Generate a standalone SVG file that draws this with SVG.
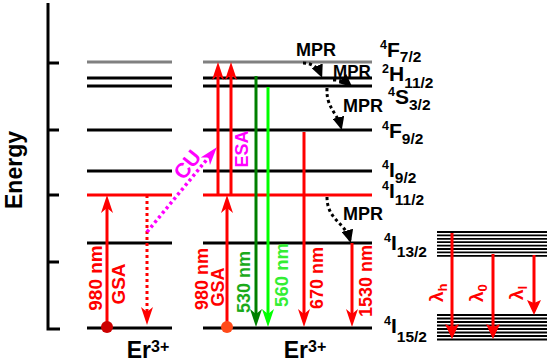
<svg xmlns="http://www.w3.org/2000/svg" width="550" height="362" viewBox="0 0 550 362">
<style>
text{font-family:"Liberation Sans",Arial,sans-serif;font-weight:bold}
.lv{stroke:#000;stroke-width:3;fill:none}
.gr{stroke:#808080;stroke-width:3}
.rd{stroke:#ff0000;stroke-width:3}
.bd{stroke:#000;stroke-width:1.8}
.ar{stroke:#ff0000;stroke-width:3;fill:none}
.ard{stroke:#ff0000;stroke-width:3;fill:none;stroke-dasharray:3 3}
.dg{stroke:#008000;stroke-width:3;fill:none}
.lg{stroke:#00ff00;stroke-width:3;fill:none}
.mg{stroke:#ff00ff;stroke-width:3.5;fill:none;stroke-dasharray:3 3}
.mp{stroke:#000;stroke-width:3;fill:none;stroke-dasharray:3 3}
.lab{font-size:21px;fill:#000}
.sup{font-size:12.5px}
.sub{font-size:15.5px}
</style>
<defs>
<marker id="aR" markerUnits="userSpaceOnUse" markerWidth="20" markerHeight="14" refX="12" refY="7" orient="auto"><path d="M0,1 L18,7 L0,13 L5,7 Z" fill="#ff0000"/></marker>
<marker id="aDG" markerUnits="userSpaceOnUse" markerWidth="20" markerHeight="14" refX="12" refY="7" orient="auto"><path d="M0,1 L18,7 L0,13 L5,7 Z" fill="#008000"/></marker>
<marker id="aLG" markerUnits="userSpaceOnUse" markerWidth="20" markerHeight="14" refX="12" refY="7" orient="auto"><path d="M0,1 L18,7 L0,13 L5,7 Z" fill="#00ff00"/></marker>
<marker id="aM" markerUnits="userSpaceOnUse" markerWidth="20" markerHeight="14" refX="12" refY="7" orient="auto"><path d="M0,1 L18,7 L0,13 L5,7 Z" fill="#ff00ff"/></marker>
<marker id="aB" markerUnits="userSpaceOnUse" markerWidth="14" markerHeight="12" refX="10" refY="6" orient="auto"><path d="M0,0 L13,6 L0,12 Z" fill="#000"/></marker>
<marker id="aT" markerUnits="userSpaceOnUse" markerWidth="16" markerHeight="16" refX="8" refY="8" orient="auto"><path d="M0,1 L15,8 L0,15 L3,8 Z" fill="#ff0000"/></marker>
</defs>

<g id="axis">
<path d="M48,3 V329 H60" stroke="#000" stroke-width="3" fill="none"/>
<path d="M48,63 H59 M48,130 H59 M48,195 H59 M48,262 H59" stroke="#000" stroke-width="3"/>
<text transform="translate(22,170) rotate(-90)" text-anchor="middle" font-size="23">Energy</text>
</g>

<g id="er-left">
<line class="gr" x1="87" y1="62" x2="172" y2="62"/>
<line class="lv" x1="87" y1="78" x2="172" y2="78"/>
<line class="lv" x1="87" y1="86" x2="172" y2="86"/>
<line class="lv" x1="87" y1="130" x2="172" y2="130"/>
<line class="lv" x1="87" y1="171" x2="172" y2="171"/>
<line class="rd" x1="87" y1="195" x2="172" y2="195"/>
<line class="lv" x1="87" y1="243" x2="172" y2="243"/>
<line class="lv" x1="87" y1="328" x2="172" y2="328"/>
<text x="148" y="358" text-anchor="middle" font-size="23">Er<tspan font-size="16" dy="-6">3+</tspan></text>
</g>

<g id="er-right">
<line class="gr" x1="203" y1="62" x2="372" y2="62"/>
<line class="lv" x1="203" y1="78" x2="372" y2="78"/>
<line class="lv" x1="203" y1="86" x2="372" y2="86"/>
<line class="lv" x1="203" y1="130" x2="372" y2="130"/>
<line class="lv" x1="203" y1="171" x2="372" y2="171"/>
<line class="rd" x1="203" y1="195" x2="372" y2="195"/>
<line class="lv" x1="203" y1="243" x2="372" y2="243"/>
<line class="lv" x1="203" y1="328" x2="372" y2="328"/>
<text x="305" y="358" text-anchor="middle" font-size="23">Er<tspan font-size="16" dy="-6">3+</tspan></text>
</g>

<g id="level-labels">
<text x="380" y="57" class="lab"><tspan class="sup" dy="-8">4</tspan><tspan dy="8">F</tspan><tspan class="sub" dy="5">7/2</tspan></text>
<text x="382" y="81" class="lab"><tspan class="sup" dy="-8">2</tspan><tspan dy="8">H</tspan><tspan class="sub" dy="7">11/2</tspan></text>
<text x="388" y="104" class="lab"><tspan class="sup" dy="-8">4</tspan><tspan dy="8">S</tspan><tspan class="sub" dy="6">3/2</tspan></text>
<text x="382" y="138" class="lab"><tspan class="sup" dy="-8">4</tspan><tspan dy="8">F</tspan><tspan class="sub" dy="6">9/2</tspan></text>
<text x="382" y="177" class="lab"><tspan class="sup" dy="-8">4</tspan><tspan dy="8">I</tspan><tspan class="sub" dy="6">9/2</tspan></text>
<text x="382" y="198" class="lab"><tspan class="sup" dy="-8">4</tspan><tspan dy="8">I</tspan><tspan class="sub" dy="7">11/2</tspan></text>
<text x="384" y="250" class="lab"><tspan class="sup" dy="-8">4</tspan><tspan dy="8">I</tspan><tspan class="sub" dy="7">13/2</tspan></text>
<text x="384" y="333" class="lab"><tspan class="sup" dy="-8">4</tspan><tspan dy="8">I</tspan><tspan class="sub" dy="9">15/2</tspan></text>
</g>

<g id="bands">
<path class="bd" d="M437,232 H547 M437,235.4 H547 M437,238.8 H547 M437,242.2 H547 M437,245.6 H547 M437,249 H547 M437,252.4 H547 M437,255.8 H547"/>
<path class="bd" d="M437,315 H547 M437,318.5 H547 M437,322 H547 M437,325.5 H547 M437,329 H547 M437,332.5 H547 M437,336 H547 M437,339.5 H547"/>
</g>

<g id="connectors">
<line class="ar" x1="107" y1="327" x2="107" y2="201" marker-end="url(#aR)"/>
<line class="ard" x1="147" y1="195" x2="147" y2="319" marker-end="url(#aR)"/>
<line class="mg" x1="147" y1="232" x2="213" y2="152" marker-end="url(#aM)"/>
<line class="ar" x1="227" y1="327" x2="227" y2="201" marker-end="url(#aR)"/>
<line class="ar" x1="218" y1="195" x2="218" y2="68" marker-end="url(#aR)"/>
<line class="ar" x1="231" y1="195" x2="231" y2="68" marker-end="url(#aR)"/>
<line class="dg" x1="256" y1="76" x2="256" y2="321" marker-end="url(#aDG)"/>
<line class="lg" x1="268" y1="87" x2="268" y2="321" marker-end="url(#aLG)"/>
<line class="ar" x1="304" y1="132" x2="304" y2="321" marker-end="url(#aR)"/>
<line class="ar" x1="352" y1="243" x2="352" y2="321" marker-end="url(#aR)"/>
<path class="mp" d="M303,63 Q316,63 321,75" marker-end="url(#aB)"/>
<path class="mp" d="M333,80 Q344,80 350,85" marker-end="url(#aB)"/>
<path class="mp" d="M327,88 C326,108 337,112 341,127" marker-end="url(#aB)"/>
<path class="mp" d="M327,197 C327,220 345,222 350,240" marker-end="url(#aB)"/>
<line class="ar" x1="452" y1="233" x2="452" y2="332" marker-end="url(#aT)"/>
<line class="ar" x1="493" y1="254" x2="493" y2="332" marker-end="url(#aT)"/>
<line class="ar" x1="534" y1="255" x2="534" y2="308" marker-end="url(#aT)"/>
</g>

<g id="dots">
<circle cx="107" cy="327" r="6" fill="#cc0000"/>
<circle cx="227" cy="327" r="6" fill="#ff4a1a"/>
</g>

<g id="transition-labels">
<text transform="translate(102,278) rotate(-90)" text-anchor="middle" font-size="19" fill="#ff0000">980 nm</text>
<text transform="translate(125,284) rotate(-90)" text-anchor="middle" font-size="19" fill="#ff0000">GSA</text>
<text transform="translate(208,279) rotate(-90)" text-anchor="middle" font-size="18" fill="#ff0000">980 nm</text>
<text transform="translate(224,287) rotate(-90)" text-anchor="middle" font-size="18" fill="#ff0000">GSA</text>
<text transform="translate(248,149) rotate(-90)" text-anchor="middle" font-size="18" fill="#ff00ff">ESA</text>
<text transform="translate(193,169) rotate(-52)" text-anchor="middle" font-size="21" fill="#ff00ff">CU</text>
<text transform="translate(250,282) rotate(-90)" text-anchor="middle" font-size="18" fill="#1aaa1a">530 nm</text>
<text transform="translate(288,275) rotate(-90)" text-anchor="middle" font-size="18.5" fill="#33ee33">560 nm</text>
<text transform="translate(323,278) rotate(-90)" text-anchor="middle" font-size="18" fill="#ff0000">670 nm</text>
<text transform="translate(372,281) rotate(-90)" text-anchor="middle" font-size="18" fill="#ff0000">1530 nm</text>
<text x="296" y="56" font-size="18">MPR</text>
<text x="333" y="77" font-size="17">MPR</text>
<text x="343" y="112" font-size="18">MPR</text>
<text x="343" y="220" font-size="18">MPR</text>
<text transform="translate(443,302) rotate(-90)" font-size="19" fill="#ff0000">λ<tspan font-size="13" dy="4">h</tspan></text>
<text transform="translate(483,302) rotate(-90)" font-size="19" fill="#ff0000">λ<tspan font-size="13" dy="4">0</tspan></text>
<text transform="translate(523,300) rotate(-90)" font-size="19" fill="#ff0000">λ<tspan font-size="13" dy="4">l</tspan></text>
</g>
</svg>
